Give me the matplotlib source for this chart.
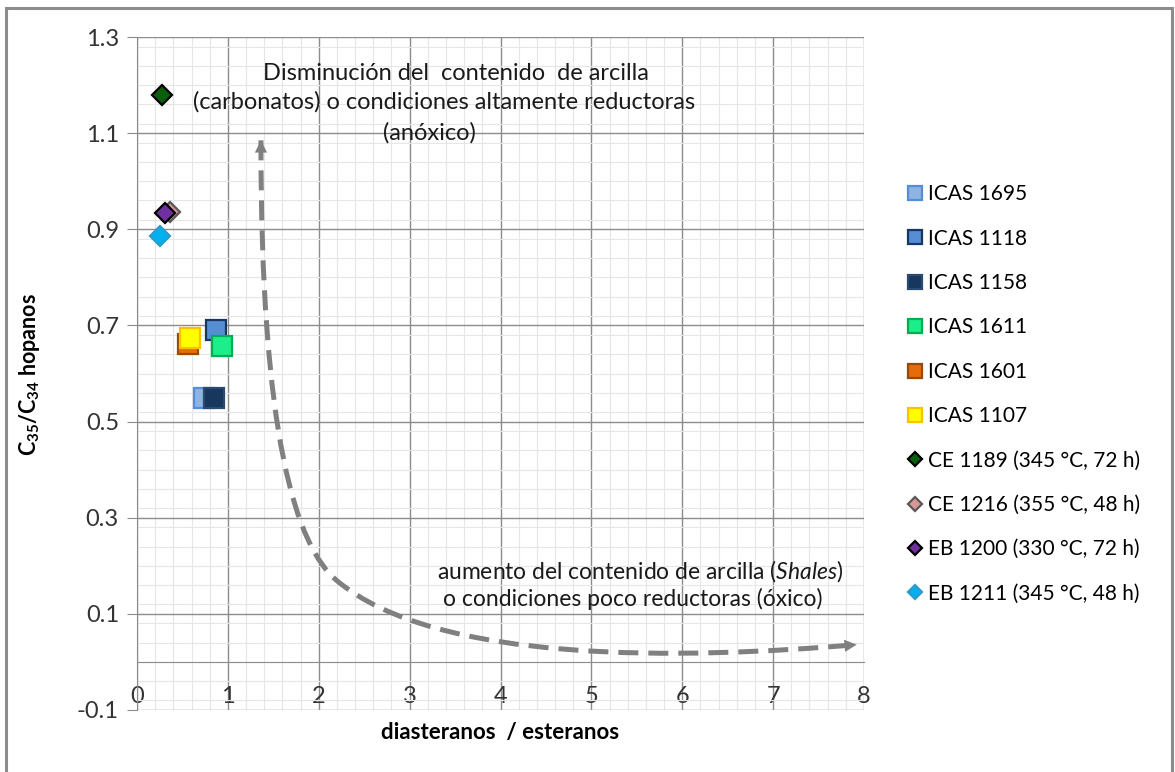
import numpy as np
from matplotlib import pyplot as plt
from matplotlib.path import Path
from matplotlib.patches import PathPatch, Rectangle
from matplotlib.ticker import MultipleLocator

plt.rcParams['font.family'] = ['Lato', 'DejaVu Sans']
plt.rcParams['mathtext.fontset'] = 'custom'
plt.rcParams['mathtext.rm'] = 'Lato'
plt.rcParams['mathtext.it'] = 'Lato:italic'
plt.rcParams['mathtext.bf'] = 'Lato:bold'

# Samples
labels = ['ICAS 1695', 'ICAS 1118', 'ICAS 1158', 'ICAS 1611', 'ICAS 1601',
          'ICAS 1107', 'CE 1189 (345 °C, 72 h)', 'CE 1216 (355 °C, 48 h)',
          'EB 1200 (330 °C, 72 h)', 'EB 1211 (345 °C, 48 h)']
dia_est = [0.735, 0.87, 0.85, 0.93, 0.56, 0.58, 0.275, 0.36, 0.31, 0.25]
c35_c34 = [0.55, 0.69, 0.548, 0.658, 0.662, 0.673, 1.18, 0.935, 0.933, 0.885]
markers = ['s'] * 6 + ['D'] * 4
faces = ['#8DB4E2', '#558ED5', '#17375E', '#1CEE8C', '#E46C0A', '#FFFF00',
         '#0B5E0B', '#D99694', '#7030A0', '#00B0F0']
edges = ['#558ED5', '#17375E', '#2A4A70', '#00B050', '#984807', '#FFC000',
         '#000000', '#595959', '#000000', '#2E9CCB']

# dashed trend arrow (Bezier control points, data units)
trend_pts = [(1.364, 1.085), (1.36, 0.47), (1.75, 0.24), (2.2, 0.169),
             (3.3, -0.005), (6.0, 0.005), (7.92, 0.036)]

top_lines = ['Disminución del  contenido  de arcilla',
             '(carbonatos) o condiciones altamente reductoras', '(anóxico)']
top_x = [3.51, 3.38, 3.22]
top_y = [1.225, 1.165, 1.1]
low_lines = ['aumento del contenido de arcilla ($\\mathit{Shales}$)',
             'o condiciones poco reductoras (óxico)']
low_x = [5.535, 5.45]
low_y = [0.19, 0.131]

fig = plt.figure(figsize=(11.75, 7.72), dpi=100)
ax = fig.add_axes([137 / 1175, 1 - 710 / 772, 727 / 1175, 673 / 772])

ax.set_xlim(0, 8)
ax.set_ylim(-0.1, 1.3)
ax.xaxis.set_major_locator(MultipleLocator(1))
ax.xaxis.set_minor_locator(MultipleLocator(0.2))
yt = np.arange(-0.1, 1.31, 0.2)
ax.set_yticks(yt)
ax.set_yticklabels(['%.1f' % v for v in yt])
ax.yaxis.set_minor_locator(MultipleLocator(0.04))
ax.grid(which='major', color='#8C8C8C', lw=1.0, zorder=0)
ax.grid(which='minor', color='#E6E6E6', lw=0.8, zorder=0)
ax.set_axisbelow(True)

for s in ['top', 'right']:
    ax.spines[s].set_visible(False)
ax.spines['bottom'].set_position(('data', 0))
ax.spines['left'].set_color('#8C8C8C')
ax.spines['bottom'].set_color('#8C8C8C')
ax.tick_params(axis='y', which='major', length=7, color='#8C8C8C',
               labelsize=17, labelcolor='#333333', pad=6)
ax.tick_params(axis='x', which='major', length=0, labelsize=17,
               labelcolor='#333333', pad=17)
ax.tick_params(which='minor', length=0)

for x, y, m, fc, ec, lab in zip(dia_est, c35_c34, markers, faces, edges, labels):
    ms = 14 if m == 's' else 10.5
    ax.plot([x], [y], linestyle='none', marker=m, ms=ms, mfc=fc, mec=ec,
            mew=1.6, label=lab, zorder=5)

# trend curve
codes = [Path.MOVETO] + [Path.CURVE4] * 6
ax.add_patch(PathPatch(Path(trend_pts, codes), fill=False, ec='#808080',
                       lw=3.6, ls=(0, (4, 2)), zorder=3))
ax.annotate('', xy=trend_pts[0], xytext=(1.364, 1.0),
            arrowprops=dict(arrowstyle='-|>', mutation_scale=22,
                            color='#808080', lw=0, shrinkA=0, shrinkB=0))
ax.annotate('', xy=trend_pts[-1], xytext=(7.7, 0.032),
            arrowprops=dict(arrowstyle='-|>', mutation_scale=22,
                            color='#808080', lw=0, shrinkA=0, shrinkB=0))

for t, x, y in zip(top_lines, top_x, top_y):
    ax.text(x, y, t, ha='center', va='center', fontsize=17,
            color='#1A1A1A', zorder=6)
for t, x, y in zip(low_lines, low_x, low_y):
    ax.text(x, y, t, ha='center', va='center', fontsize=16.5,
            color='#1A1A1A', zorder=6)

fig.text(500 / 1175, 1 - 732 / 772, 'diasteranos  / esteranos',
         ha='center', va='center', fontsize=16, fontweight='bold')
fig.text(30 / 1175, 1 - 375 / 772,
         r'C$_{\mathbf{35}}$/C$_{\mathbf{34}}$ hopanos', rotation=90,
         ha='center', va='center', fontsize=15.5, fontweight='bold')

fig.legend(loc='upper left', bbox_to_anchor=(900 / 1175, 1 - 176 / 772),
           frameon=False, fontsize=15, labelspacing=1.17, markerscale=0.72,
           handlelength=0.6, handletextpad=0.35, borderaxespad=0)

fig.patches.append(Rectangle((6 / 1175, -0.01), 1166 / 1175, 1 - 8 / 772 + 0.01,
                             transform=fig.transFigure, fill=False,
                             ec='#8C8C8C', lw=2.2))

fig.savefig('out.png', dpi=100)
